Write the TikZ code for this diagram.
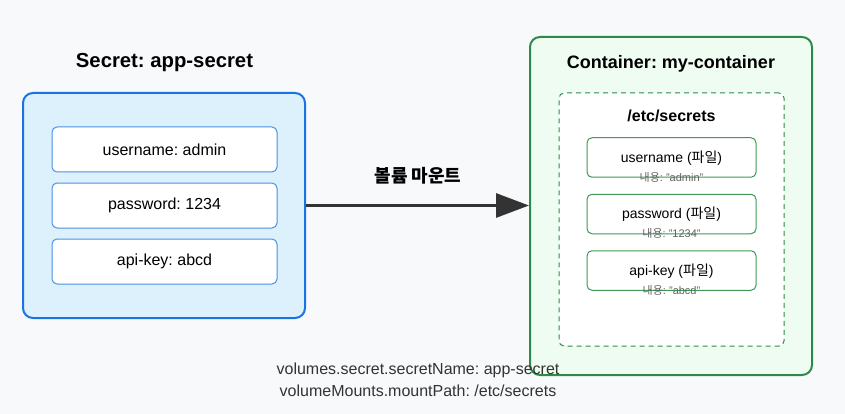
\documentclass[tikz,border=0pt]{standalone}
\usepackage{fontspec}
\setmainfont{Liberation Sans}
\newfontfamily\kr{Noto Sans CJK KR}
\frenchspacing
\usetikzlibrary{arrows.meta}
\definecolor{bg}{HTML}{F8F9FA}
\definecolor{secfill}{HTML}{DDF1FD}
\definecolor{secdraw}{HTML}{1A73E0}
\definecolor{itemdraw}{HTML}{4A90E2}
\definecolor{confill}{HTML}{EEFCF1}
\definecolor{condraw}{HTML}{2E8B47}
\definecolor{filedraw}{HTML}{3C9A55}
\definecolor{arrowc}{HTML}{333333}
\tikzset{
  outerbox/.style={draw, line width=2pt, rounded corners=10pt, inner sep=0pt},
  itembox/.style={draw=itemdraw, line width=1pt, fill=white, rounded corners=5pt, minimum width=225pt, minimum height=45pt, inner sep=0pt, font=\fontsize{16}{18}\selectfont},
  filebox/.style={draw=filedraw, line width=1pt, fill=white, rounded corners=5pt, minimum width=169pt, minimum height=39.5pt, inner sep=0pt},
  filetxt/.style={font=\fontsize{14}{16}\selectfont, inner sep=0pt},
  subtxt/.style={font=\fontsize{11}{12}\selectfont, text=black!62, inner sep=0pt},
  titletxt/.style={font=\bfseries\fontsize{20.3}{22}\selectfont, inner sep=0pt},
  foot/.style={font=\fontsize{16}{18}\selectfont, text=arrowc, inner sep=0pt}
}
\begin{document}
\begin{tikzpicture}[x=1pt,y=-1pt]
\fill[bg] (0,0) rectangle (845,414);
\useasboundingbox (0,0) rectangle (845,414);
% Secret
\node[titletxt] (sectitle) at (164.5,63) {Secret: app-secret};
\node[outerbox, draw=secdraw, fill=secfill, minimum width=282pt, minimum height=225pt] (secret) at (164,205.5) {};
\node[itembox] (s1) at (164.5,149.5) {username: admin};
\node[itembox] (s2) at (164.5,205.5) {password: 1234};
\node[itembox] (s3) at (164.5,261.5) {api-key: abcd};
% Container
\node[outerbox, draw=condraw, fill=confill, minimum width=282pt, minimum height=338pt] (cont) at (671,206) {};
\node[titletxt, font=\bfseries\fontsize{18}{20}\selectfont] (contitle) at (671,64) {Container: my-container};
\node[draw=condraw, dashed, dash pattern=on 5pt off 4pt, line width=1pt, fill=white, rounded corners=5pt, minimum width=225pt, minimum height=253pt, inner sep=0pt] (vol) at (671.5,219.5) {};
\node[font=\bfseries\fontsize{16}{18}\selectfont, inner sep=0pt] (voltitle) at (671.5,116) {/etc/secrets};
\node[filebox] (f1) at (671.5,157.5) {};
\node[filebox] (f2) at (671.5,214) {};
\node[filebox] (f3) at (671.5,270.5) {};
\node[filetxt] (f1t) at (671.5,158) {username ({\kr 파일})};
\node[filetxt] (f2t) at (671.5,214.5) {password ({\kr 파일})};
\node[filetxt] (f3t) at (671.5,271) {api-key ({\kr 파일})};
\node[subtxt] (f1s) at (671.5,177) {{\kr 내용}: "admin"};
\node[subtxt] (f2s) at (671.5,233.5) {{\kr 내용}: "1234"};
\node[subtxt] (f3s) at (671.5,290) {{\kr 내용}: "abcd"};
% Arrow
\draw[arrowc, line width=3pt, -{Triangle[length=33pt,width=24pt]}] (secret.east) -- (secret.east -| cont.west);
\node[font=\kr\bfseries\fontsize{18}{20}\selectfont, inner sep=0pt] (lbl) at (418,176) {볼륨 마운트};
% Footer
\node[foot] (n1) at (418,370) {volumes.secret.secretName: app-secret};
\node[foot] (n2) at (418,391) {volumeMounts.mountPath: /etc/secrets};
\end{tikzpicture}
\end{document}
